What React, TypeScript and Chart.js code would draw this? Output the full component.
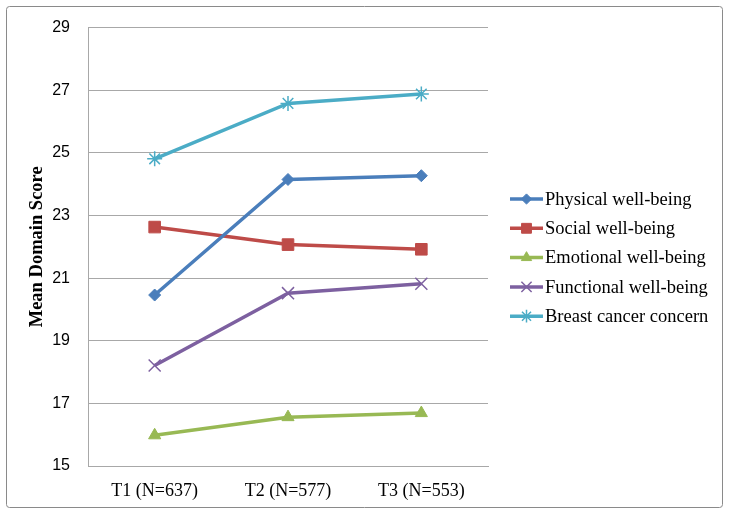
import React, { useEffect, useRef } from "react";
import { Chart, registerables } from "chart.js";
import { drawPoint } from "chart.js/helpers";

Chart.register(...registerables);

const categories = ["T1 (N=637)", "T2 (N=577)", "T3 (N=553)"];
const physical = [20.46, 24.15, 24.27];
const social = [22.63, 22.07, 21.92];
const emotional = [15.98, 16.56, 16.69];
const functional = [18.21, 20.52, 20.82];
const breast = [24.81, 26.58, 26.88];
const yTicks = [15, 17, 19, 21, 23, 25, 27, 29];

const seriesDefs = [
  { label: "Physical well-being", data: physical, color: "#4A7EBB", style: "rectRot", r: 6, bw: 1 },
  { label: "Social well-being", data: social, color: "#BE4B48", style: "rect", r: 8.2, bw: 1 },
  { label: "Emotional well-being", data: emotional, color: "#98B954", style: "triangle", r: 7, bw: 1 },
  { label: "Functional well-being", data: functional, color: "#7D60A0", style: "crossRot", r: 8.5, bw: 1.5 },
  { label: "Breast cancer concern", data: breast, color: "#4BACC6", style: "star", r: 7.5, bw: 1.5 },
];

const frame = {
  id: "frame",
  beforeDraw(chart: any) {
    const ctx = chart.ctx;
    ctx.save();
    ctx.fillStyle = "#ffffff";
    ctx.fillRect(0, 0, chart.width, chart.height);
    ctx.strokeStyle = "#8a8a8a";
    ctx.lineWidth = 1;
    ctx.beginPath();
    ctx.roundRect(6.5, 6.5, 716, 501, 3);
    ctx.stroke();
    ctx.restore();
  },
};

const legendPlugin = {
  id: "customLegend",
  afterDraw(chart: any) {
    const ctx = chart.ctx;
    ctx.save();
    chart.data.datasets.forEach((ds: any, i: number) => {
      const y = 199 + i * 29.3;
      ctx.strokeStyle = ds.borderColor;
      ctx.lineWidth = 3.5;
      ctx.beginPath();
      ctx.moveTo(510, y);
      ctx.lineTo(543, y);
      ctx.stroke();
      ctx.fillStyle = ds.borderColor;
      ctx.strokeStyle = ds.borderColor;
      ctx.lineWidth = ds.pointBorderWidth;
      drawPoint(ctx, { pointStyle: ds.pointStyle, radius: ds.pointRadius * 0.85, rotation: 0, borderWidth: ds.pointBorderWidth }, 526.5, y);
      ctx.fillStyle = "#000";
      ctx.font = "18.5px 'Liberation Serif', 'Times New Roman', serif";
      ctx.textBaseline = "middle";
      ctx.textAlign = "left";
      ctx.fillText(ds.label, 545, y + 1);
    });
    ctx.restore();
  },
};

export default function App() {
  const ref = useRef<HTMLCanvasElement>(null);
  useEffect(() => {
    if (!ref.current) return;
    const chart = new Chart(ref.current, {
      type: "line",
      data: {
        labels: categories,
        datasets: seriesDefs.map((s) => ({
          label: s.label,
          data: s.data,
          borderColor: s.color,
          backgroundColor: s.color,
          pointBackgroundColor: s.color,
          pointBorderColor: s.color,
          pointStyle: s.style as any,
          pointRadius: s.r,
          pointBorderWidth: s.bw,
          borderWidth: 3.5,
          tension: 0,
        })),
      },
      options: {
        responsive: false,
        animation: false,
        layout: { padding: { left: 0, right: 241, top: 25, bottom: 0 } },
        plugins: { legend: { display: false }, tooltip: { enabled: false } },
        scales: {
          x: {
            offset: true,
            grid: { display: false, drawTicks: false },
            border: { display: true, color: "#a8a8a8" },
            ticks: {
              color: "#000",
              padding: 14,
              font: { family: "'Liberation Serif', 'Times New Roman', serif", size: 18 },
            },
            afterFit: (s: any) => {
              s.height = 50;
            },
          },
          y: {
            min: 15,
            max: 29,
            afterBuildTicks: (s: any) => {
              s.ticks = yTicks.map((v) => ({ value: v }));
            },
            grid: { color: "#a8a8a8", drawTicks: false, lineWidth: 1 },
            border: { display: true, color: "#a8a8a8" },
            ticks: {
              color: "#000",
              padding: 18,
              font: { family: "'Liberation Sans', Arial, sans-serif", size: 16 },
            },
            title: {
              display: true,
              text: "Mean Domain Score",
              color: "#000",
              padding: { top: 26, bottom: 0 },
              font: { family: "'Liberation Serif', 'Times New Roman', serif", size: 18.5, weight: "bold" },
            },
            afterFit: (s: any) => {
              s.width = 88;
            },
          },
        },
      },
      plugins: [frame, legendPlugin],
    });
    return () => chart.destroy();
  }, []);
  return (
    <canvas
      ref={ref}
      width={729}
      height={516}
      style={{ position: "absolute", left: 0, top: 0, width: 729, height: 516 }}
    />
  );
}
